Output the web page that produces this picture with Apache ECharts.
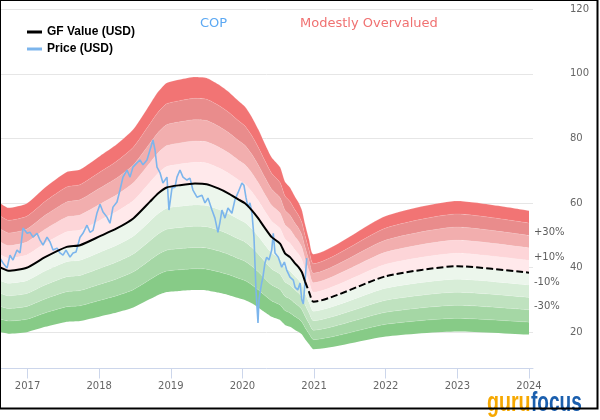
<!DOCTYPE html>
<html><head><meta charset="utf-8">
<script src="https://cdn.jsdelivr.net/npm/echarts@6/dist/echarts.min.js"></script>
<style>html,body{margin:0;padding:0;background:#fff}#c{width:600px;height:420px}</style>
</head><body><div id="c"></div>
<script>
// Tick labels
const xTickYears = [2017, 2018, 2019, 2020, 2021, 2022, 2023, 2024];
const yTickValues = [20, 40, 60, 80, 100, 120];

// GF Value (USD), x in decimal years
const gfYears = [2016.615, 2016.731, 2016.987, 2017.243, 2017.546, 2017.732, 2018.011, 2018.244, 2018.476, 2018.709, 2018.825, 2018.942, 2019.128, 2019.337, 2019.500, 2019.662, 2019.802, 2019.942, 2020.035, 2020.129, 2020.221, 2020.314, 2020.408, 2020.524, 2020.593, 2020.663, 2020.733, 2020.779, 2020.827, 2020.873, 2020.929, 2020.989, 2022.0, 2023.0, 2024.0];
const gfValues = [40.0, 39.0, 39.9, 43.2, 46.4, 46.9, 49.7, 52.1, 55.2, 60.4, 63.0, 64.8, 65.5, 66.0, 65.8, 64.5, 63.0, 61.1, 59.9, 57.8, 55.2, 52.2, 49.4, 47.4, 44.4, 43.2, 41.3, 40.2, 38.6, 35.6, 32.4, 29.4, 37.3, 40.4, 38.4];
const gfEstimateFrom = 2020.873; // dashed (estimate) from here on

// Price (USD)
const priceYears = [2016.615,2016.657,2016.713,2016.754,2016.796,2016.852,2016.894,2016.936,2016.992,2017.034,2017.075,2017.131,2017.173,2017.215,2017.271,2017.313,2017.355,2017.411,2017.452,2017.494,2017.536,2017.592,2017.634,2017.676,2017.732,2017.773,2017.829,2017.871,2017.913,2017.969,2018.011,2018.053,2018.108,2018.150,2018.192,2018.248,2018.290,2018.332,2018.388,2018.430,2018.471,2018.527,2018.569,2018.611,2018.667,2018.709,2018.751,2018.779,2018.807,2018.850,2018.890,2018.946,2018.974,2019.016,2019.058,2019.086,2019.128,2019.170,2019.225,2019.267,2019.309,2019.365,2019.435,2019.477,2019.519,2019.575,2019.616,2019.658,2019.686,2019.714,2019.756,2019.798,2019.853,2019.895,2019.937,2019.993,2020.021,2020.049,2020.077,2020.105,2020.133,2020.161,2020.189,2020.217,2020.231,2020.245,2020.268,2020.286,2020.314,2020.338,2020.370,2020.408,2020.430,2020.454,2020.500,2020.547,2020.584,2020.617,2020.663,2020.709,2020.733,2020.771,2020.803,2020.827,2020.849,2020.863,2020.896];
const priceValues = [42.9,41.4,39.8,43.8,42.3,45.4,44.5,52.2,50.6,50.9,49.4,50.6,48.5,46.9,49.4,47.9,45.4,46.0,44.5,43.8,45.4,43.2,44.5,44.8,49.4,50.6,53.1,50.9,51.5,56.9,59.6,57.2,55.6,53.7,58.7,60.3,64.0,68.0,70.2,68.0,71.1,72.4,73.3,71.8,73.3,76.4,79.5,76.4,71.1,69.3,66.2,68.0,57.8,64.6,64.9,68.0,70.2,68.0,67.1,67.7,64.0,61.8,62.4,60.0,61.5,57.8,55.3,50.9,54.0,57.8,55.3,58.4,56.8,60.9,63.1,66.2,65.5,61.8,58.7,60.0,56.8,49.4,33.0,22.8,30.0,32.1,35.2,37.0,41.4,43.2,42.3,45.4,50.6,44.5,43.2,40.1,41.7,39.2,37.0,36.1,33.9,33.0,35.2,30.0,28.7,33.0,42.9];

// Valuation bands (multiples of GF Value), bottom to top
const bandBase = 0.5;
const bandStep = 0.1;
const bandColors = ['#87cb87', '#a5d7a5', '#bfe2bf', '#d7edd7', '#ecf6ec', '#ffe9eb', '#fdd5d8', '#f2aeae', '#e98c8c', '#f27474'];
const bandLabels = ['+30%', '+10%', '-10%', '-30%'];
const bandLabelFactors = [1.3, 1.1, 0.9, 0.7];

const X_MIN = 2016.615, X_MAX = 2024.056;

const FONT = '"DejaVu Sans", sans-serif';
const SMOOTH = 0.2;

// decimal year -> UTC timestamp (data axis is a hidden time axis so stacking works on y)
function ts(y) {
  const yr = Math.floor(y);
  const a = Date.UTC(yr, 0, 1), b = Date.UTC(yr + 1, 0, 1);
  return a + (y - yr) * (b - a);
}

const T = { xAxisIndex: 1 };
const series = [];
series.push(Object.assign({
  type: 'line', stack: 'band', silent: true, symbol: 'none', smooth: SMOOTH,
  data: gfYears.map((x, i) => [ts(x), gfValues[i] * bandBase]),
  lineStyle: { width: 0, opacity: 0 }
}, T));
bandColors.forEach(c => {
  series.push(Object.assign({
    type: 'line', stack: 'band', silent: true, symbol: 'none', smooth: SMOOTH,
    data: gfYears.map((x, i) => [ts(x), gfValues[i] * bandStep]),
    lineStyle: { width: 0.5, color: 'rgba(255,255,255,0.3)' },
    areaStyle: { color: c, opacity: 1 }
  }, T));
});
series.push(Object.assign({
  name: 'Price (USD)', type: 'line', symbol: 'none',
  data: priceYears.map((x, i) => [ts(x), priceValues[i]]),
  itemStyle: { color: '#7cb5ec' },
  lineStyle: { color: '#7cb5ec', width: 1.6 }
}, T));
series.push(Object.assign({
  name: 'GF Value (USD)', type: 'line', symbol: 'none', smooth: SMOOTH,
  data: gfYears.map((x, i) => [x, gfValues[i]]).filter(p => p[0] <= gfEstimateFrom).map(p => [ts(p[0]), p[1]]),
  itemStyle: { color: '#000' },
  lineStyle: { color: '#000', width: 2 }
}, T));
series.push(Object.assign({
  name: 'GF Value (USD)', type: 'line', symbol: 'none', smooth: SMOOTH,
  data: gfYears.map((x, i) => [x, gfValues[i]]).filter(p => p[0] >= gfEstimateFrom).map(p => [ts(p[0]), p[1]]),
  itemStyle: { color: '#000' },
  lineStyle: { color: '#000', width: 2, type: [7, 3] }
}, T));
const lastX = gfYears[gfYears.length - 1];
const lastGF = gfValues[gfValues.length - 1];
series.push(Object.assign({
  type: 'scatter', silent: true, symbolSize: 0,
  data: bandLabelFactors.map(f => [ts(lastX), lastGF * f]),
  label: {
    show: true, position: 'right', distance: 5, offset: [0, -3],
    formatter: p => bandLabels[p.dataIndex],
    color: '#333', fontSize: 10, fontFamily: FONT
  }
}, T));

const chart = echarts.init(document.getElementById('c'), null, { renderer: 'canvas' });
chart.setOption({
  animation: false,
  backgroundColor: '#fff',
  grid: { left: 0, right: 67, top: 9.3, bottom: 51.5, containLabel: false, outerBoundsMode: 'none' },
  legend: {
    data: ['GF Value (USD)', 'Price (USD)'],
    orient: 'vertical', left: 22, top: 21, itemGap: 5,
    icon: 'rect', itemWidth: 15, itemHeight: 3,
    textStyle: { fontFamily: '"Liberation Sans", Arial, sans-serif', fontWeight: 'bold', fontSize: 12, color: '#000' }
  },
  xAxis: [{
    type: 'value', min: X_MIN, max: X_MAX, position: 'bottom',
    axisLine: { show: true, onZero: false, lineStyle: { color: '#ccd6eb', width: 1 } },
    axisTick: { show: true, length: 10, customValues: xTickYears, lineStyle: { color: '#ccd6eb' } },
    axisLabel: { customValues: xTickYears, formatter: v => String(Math.round(v)), color: '#666', fontSize: 10, fontFamily: FONT, margin: 13 },
    splitLine: { show: false }
  }, {
    type: 'time', min: ts(X_MIN), max: ts(X_MAX), show: false, position: 'bottom',
    splitLine: { show: false }
  }],
  yAxis: {
    type: 'value', position: 'right', min: 8.7, max: 120,
    axisLine: { show: false },
    axisTick: { show: false, customValues: yTickValues },
    axisLabel: { customValues: yTickValues, color: '#666', fontSize: 10, fontFamily: FONT, margin: 37 },
    splitLine: { show: true, lineStyle: { color: '#e6e6e6', width: 1 } }
  },
  series: series,
  graphic: [
    { type: 'text', x: 200, y: 24, z: 100, style: { text: 'COP', fill: '#5ba8f3', font: '13px ' + FONT, verticalAlign: 'middle' } },
    { type: 'text', x: 300, y: 24, z: 100, style: { text: 'Modestly Overvalued', fill: '#f07171', font: '13px ' + FONT, verticalAlign: 'middle' } },
    { type: 'text', x: 487, y: 389, z: 100, scaleX: 0.7, style: { text: 'guru', fill: '#f6a800', font: 'bold 28px "Liberation Sans", Arial, sans-serif', verticalAlign: 'alphabetic' } },
    { type: 'text', x: 531, y: 389, z: 100, scaleX: 0.68, style: { text: 'focus', fill: '#1b5fae', font: 'bold 28px "Liberation Sans", Arial, sans-serif', verticalAlign: 'alphabetic' } },
    { type: 'rect', z: 100, silent: true, shape: { x: 0, y: 0, width: 597.5, height: 408.5 }, style: { fill: 'none', stroke: '#000', lineWidth: 2 } }
  ]
});
</script></body></html>
